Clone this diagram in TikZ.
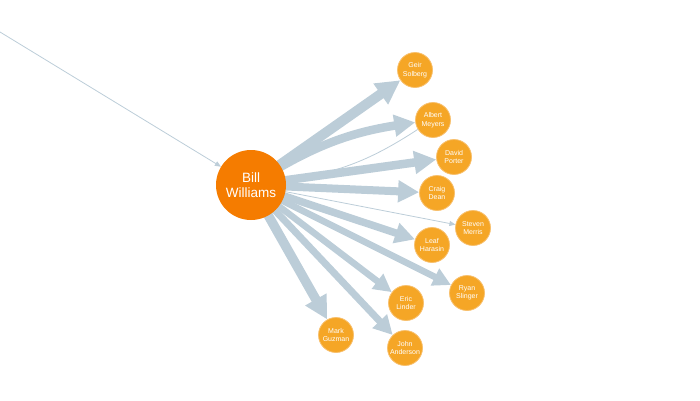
\documentclass[tikz,border=0pt]{standalone}
\usepackage{fontspec}
\setmainfont{Liberation Sans}
\usepackage{xcolor}
\usepackage{tikz}
\usetikzlibrary{arrows.meta, positioning, backgrounds}
\definecolor{linkblue}{RGB}{188,205,216}
\definecolor{huborange}{RGB}{245,124,0}
\definecolor{leaforange}{RGB}{245,166,38}
\definecolor{leafrim}{RGB}{248,192,110}
\tikzset{
    network/.style={x=1pt, y=1pt, >=Stealth},
    hub/.style={circle, fill=huborange, text=white, minimum size=70pt, inner sep=0pt, align=center, font=\fontsize{13.5}{15.5}\selectfont},
    person/.style={circle, fill=leaforange, draw=leafrim, line width=0.8pt, text=white, minimum size=35pt, inner sep=0pt, align=center, font=\fontsize{7}{8.6}\selectfont},
    % thick call links: shaft width, then arrow head size
    link/.style 2 args={draw=linkblue, line width=#1, -{Triangle[length=#2, width=#2]}},
    thinlink/.style={draw=linkblue, line width=0.8pt, -{Triangle[length=6pt, width=5pt]}},
}

\begin{document}
\begin{tikzpicture}[network]
    \useasboundingbox (0,0) rectangle (700,400);
    \node[hub]    (bill)    at (251,215) {Bill\\Williams};
    \node[person] (geir)    at (415,330) {Geir\\Solberg};
    \node[person] (albert)  at (433,280) {Albert\\Meyers};
    \node[person] (david)   at (454,243) {David\\Porter};
    \node[person] (craig)   at (437,207) {Craig\\Dean};
    \node[person] (steven)  at (473,172) {Steven\\Merris};
    \node[person] (leaf)    at (432,155) {Leaf\\Harasin};
    \node[person] (ryan)    at (467,107) {Ryan\\Slinger};
    \node[person] (eric)    at (406,97)  {Eric\\Linder};
    \node[person] (mark)    at (336,65)  {Mark\\Guzman};
    \node[person] (john)    at (405,52)  {John\\Anderson};
    \coordinate (src) at (0,368);

    \begin{scope}[on background layer]
        % incoming links
        \draw[thinlink] (src) -- (bill);
        \draw[thinlink] (albert) to[bend left=12] (bill);

        % outgoing links
        \draw[link={10pt}{24pt}] (bill.center) -- (geir);
        \draw[link={8.5pt}{21pt}] (bill.center) to[bend left=12] (albert);
        \draw[link={8.5pt}{22pt}] (bill.center) -- (david);
        \draw[link={8pt}{21pt}]  (bill.center) -- (craig);
        \draw[thinlink]          (bill.center) -- (steven);
        \draw[link={7.5pt}{20pt}] (bill.center) -- (leaf);
        \draw[link={6.5pt}{18pt}] (bill.center) -- (ryan);
        \draw[link={6.5pt}{18pt}] (bill.center) -- (eric);
        \draw[link={9.5pt}{23pt}] (bill.center) -- (mark);
        \draw[link={7pt}{19pt}]  (bill.center) -- (john);
    \end{scope}
\end{tikzpicture}
\end{document}
